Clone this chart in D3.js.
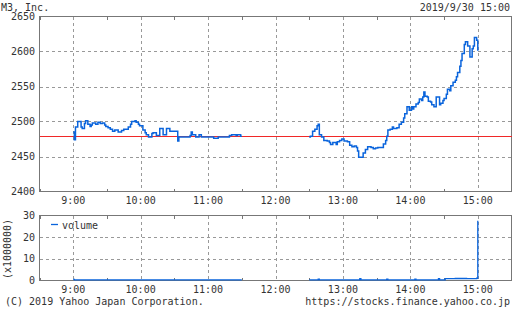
<!DOCTYPE html>
<html>
<head>
<meta charset="utf-8">
<script src="https://cdn.jsdelivr.net/npm/d3@7"></script>
<style>
  body { margin: 0; background: #fff; }
  svg { display: block; }
  text { font-family: "DejaVu Sans Mono", monospace; font-size: 10px; fill: #333; }
  .frame { fill: none; stroke: #777; stroke-width: 1; shape-rendering: crispEdges; }
  .grid line { stroke: #999; stroke-dasharray: 3,3; shape-rendering: crispEdges; }
  .minor line { stroke: #777; shape-rendering: crispEdges; }
  .close { stroke: #f02828; stroke-width: 1; shape-rendering: crispEdges; }
</style>
</head>
<body>
<svg id="chart" width="512" height="310"></svg>
<script>
/* globals d3 */

// price, minute by minute, null = lunch break
var priceTimes = ["9:00","9:01","9:02","9:04","9:07","9:08","9:10","9:11","9:13","9:15","9:16","9:17","9:20","9:22","9:24","9:26","9:28","9:29","9:31","9:33","9:35","9:37","9:40","9:41","9:43","9:45","9:49","9:51","9:52","9:55","9:56","9:58","9:59",
                  "10:02","10:04","10:05","10:07","10:10","10:11","10:14","10:17","10:20","10:23","10:26","10:33","10:34","10:44","10:45","10:46","10:49","10:52","10:54","11:05","11:09","11:19","11:21","11:25","11:26","11:29","11:30",
                  "11:31",
                  "12:30","12:31","12:33","12:35","12:37","12:38","12:39","12:41","12:43","12:46","12:48","12:49","12:51","12:54","12:55","12:57","12:59","13:01","13:04","13:06","13:08","13:10","13:12","13:13","13:14","13:17","13:18","13:20","13:22","13:25","13:27","13:29","13:31","13:35","13:36","13:38","13:39","13:40","13:42","13:44","13:45","13:48","13:50","13:52","13:54","13:55","13:57","13:59",
                  "14:01","14:02","14:03","14:05","14:07","14:08","14:10","14:11","14:12","14:13","14:15","14:16","14:18","14:19","14:21","14:23","14:26","14:27","14:29","14:30","14:32","14:33","14:35","14:36","14:38","14:40","14:41","14:42","14:44","14:45","14:46","14:48","14:49","14:51","14:53","14:55","14:56","14:57","14:59","15:00"];
var priceValues = [2485,2474,2492,2500,2492,2490,2497,2501,2496,2493,2495,2498,2496,2499,2497,2498,2495,2493,2491,2489,2486,2488,2485,2485,2487,2489,2492,2496,2500,2501,2499,2496,2494,
                   2488,2484,2481,2478,2483,2484,2480,2490,2481,2490,2486,2472,2478,2480,2485,2481,2478,2481,2478,2476,2478,2480,2481,2480,2481,2479,2479,
                   null,
                   2478,2479,2486,2489,2494,2496,2481,2478,2473,2472,2470,2467,2470,2467,2471,2473,2475,2472,2471,2466,2464,2465,2463,2458,2449,2449,2455,2460,2464,2463,2461,2462,2463,2463,2468,2473,2479,2488,2489,2492,2490,2491,2496,2499,2505,2511,2521,2516,
                   2521,2518,2521,2525,2527,2532,2530,2535,2542,2536,2535,2529,2528,2524,2521,2535,2524,2526,2530,2533,2539,2546,2544,2551,2556,2559,2564,2570,2579,2587,2597,2610,2614,2608,2592,2604,2608,2620,2616,2601];
var prevClose = 2478;

// volume (x1000000)
var volTimes = ["9:00","9:01","9:30","10:00","11:00","11:30","11:31",
                "12:30","12:38","12:39","13:15","13:16","13:39","13:40","14:04","14:05","14:25","14:26","14:31","14:40","14:50","14:59","15:00"];
var volValues = [0.3,0.1,0.1,0.1,0.1,0.1,null,
                 0.1,0.4,0.1,0.6,0.1,0.4,0.1,0.4,0.1,0.6,0.1,0.6,0.7,0.6,0.8,27.4];

var priceTicks = [2400,2450,2500,2550,2600,2650];
var volTicks = [0,10,20,30];
var hourTicks = ["9:00","10:00","11:00","12:00","13:00","14:00","15:00"];
var halfTicks = ["8:30","9:30","10:30","11:30","12:30","13:30","14:30","15:30"];

var title = "M3, Inc.";
var stamp = "2019/9/30 15:00";
var copyright = "(C) 2019 Yahoo Japan Corporation.";
var site = "https://stocks.finance.yahoo.co.jp";

var parse = d3.timeParse("%H:%M");
var fmt = d3.timeFormat("%-H:%M");

var svg = d3.select("#chart");

var left = 39.5, right = 511.5;
var x = d3.scaleTime().domain([parse("8:30"), parse("15:30")]).range([left, right]);
var yp = d3.scaleLinear().domain([2400, 2650]).range([191.5, 16.5]);
var yv = d3.scaleLinear().domain([0, 30]).range([280.5, 215.5]);

//Draw the frame, grid, minor ticks and tick labels of one panel
function makePanel(y, yTicks, labelY) {
    var g = svg.append("g");
    var top = y.range()[1], bottom = y.range()[0];

    g.append("g").attr("class", "grid")
        .selectAll("line").data(yTicks.slice(1, -1)).enter().append("line")
        .attr("x1", left).attr("x2", right)
        .attr("y1", function(d) { return Math.round(y(d)) + 0.5; })
        .attr("y2", function(d) { return Math.round(y(d)) + 0.5; });
    g.append("g").attr("class", "grid")
        .selectAll("line").data(hourTicks).enter().append("line")
        .attr("x1", function(d) { return Math.round(x(parse(d))) + 0.5; })
        .attr("x2", function(d) { return Math.round(x(parse(d))) + 0.5; })
        .attr("y1", top).attr("y2", bottom);

    var minor = g.append("g").attr("class", "minor");
    halfTicks.forEach(function(t) {
        var xx = Math.round(x(parse(t))) + 0.5;
        minor.append("line").attr("x1", xx).attr("x2", xx).attr("y1", top).attr("y2", top + 3);
        minor.append("line").attr("x1", xx).attr("x2", xx).attr("y1", bottom).attr("y2", bottom - 3);
    });

    g.append("rect").attr("class", "frame")
        .attr("x", left).attr("y", top)
        .attr("width", right - left).attr("height", bottom - top);

    g.selectAll(".ylab").data(yTicks).enter().append("text")
        .attr("class", "ylab")
        .attr("text-anchor", "end")
        .attr("x", 35)
        .attr("y", function(d) { return y(d); })
        .attr("dy", "0.35em")
        .text(function(d) { return d; });

    g.selectAll(".xlab").data(hourTicks).enter().append("text")
        .attr("class", "xlab")
        .attr("text-anchor", "middle")
        .attr("x", function(d) { return x(parse(d)); })
        .attr("y", labelY)
        .attr("dy", "0.35em")
        .text(function(d) { return fmt(parse(d)); });
    return g;
}

makePanel(yp, priceTicks, 200);
makePanel(yv, volTicks, 289);

// previous close
svg.append("line")
    .attr("class", "close")
    .attr("x1", left).attr("x2", right)
    .attr("y1", Math.round(yp(prevClose)) - 0.5).attr("y2", Math.round(yp(prevClose)) - 0.5);

var priceData = priceTimes.map(function(t, i) { return {t: parse(t), v: priceValues[i]}; });
svg.append("path")
    .datum(priceData)
    .attr("fill", "none")
    .attr("stroke", "#0a64dc")
    .attr("stroke-width", 1.5)
    .attr("d", d3.line()
        .defined(function(d) { return d.v !== null; })
        .curve(d3.curveStepAfter)
        .x(function(d) { return x(d.t); })
        .y(function(d) { return yp(d.v); }));

var volData = volTimes.map(function(t, i) { return {t: parse(t), v: volValues[i]}; });
svg.append("path")
    .datum(volData)
    .attr("fill", "none")
    .attr("stroke", "#0a64dc")
    .attr("stroke-width", 1.3)
    .attr("d", d3.line()
        .defined(function(d) { return d.v !== null; })
        .curve(d3.curveStepAfter)
        .x(function(d) { return x(d.t); })
        .y(function(d) { return yv(d.v) - 0.5; }));

// legend
svg.append("line").attr("x1", 51).attr("x2", 58).attr("y1", 224.5).attr("y2", 224.5)
    .attr("stroke", "#0a64dc").attr("stroke-width", 1.3);
svg.append("text").attr("x", 62).attr("y", 225).attr("dy", "0.35em").text("volume");

svg.append("text")
    .attr("transform", "translate(7,249) rotate(-90)")
    .attr("text-anchor", "middle")
    .attr("dy", "0.35em")
    .text("(x1000000)");

svg.append("text").attr("x", 1).attr("y", 7).attr("dy", "0.35em").text(title);
svg.append("text").attr("x", 510).attr("y", 7).attr("dy", "0.35em").attr("text-anchor", "end").text(stamp);
svg.append("text").attr("x", 5).attr("y", 301).attr("dy", "0.35em").text(copyright);
svg.append("text").attr("x", 510).attr("y", 301).attr("dy", "0.35em").attr("text-anchor", "end").text(site);
</script>
</body>
</html>
